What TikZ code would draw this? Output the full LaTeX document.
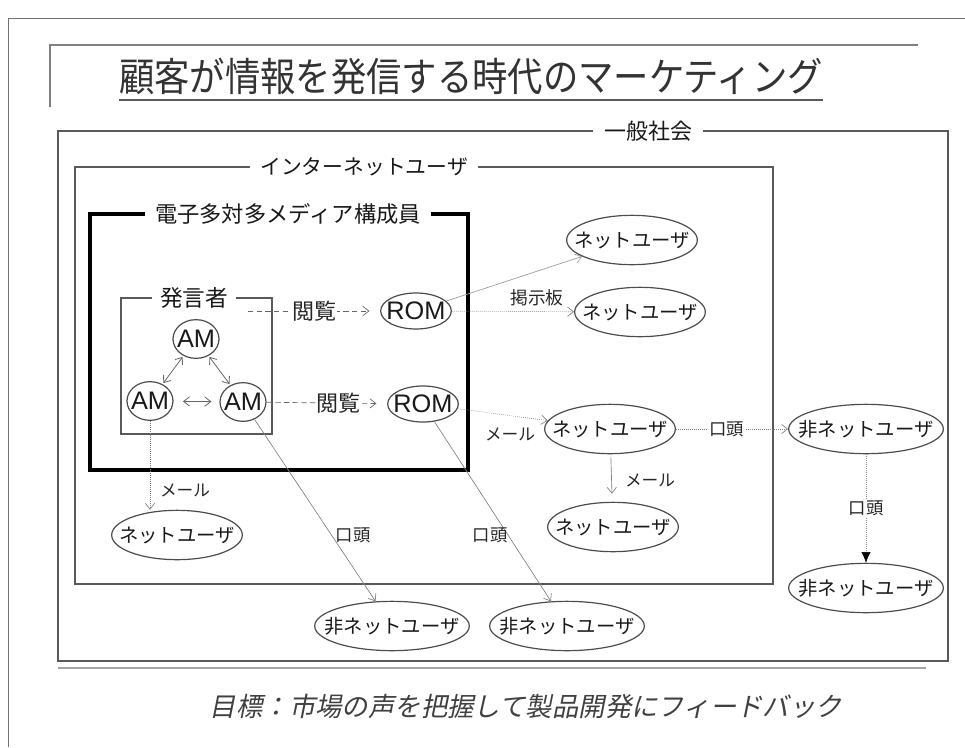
\documentclass[tikz,border=0pt]{standalone}
\usepackage{fontspec}
\setmainfont{Noto Sans CJK JP}
\newfontfamily\arialf{Liberation Sans}
\newfontfamily\slantf[FakeSlant=0.2]{Noto Sans CJK JP}
\usetikzlibrary{shapes.geometric,arrows.meta}
\newcommand{\tight}[1]{\makebox[0pt]{#1}}
\tikzset{
 ell/.style={ellipse, draw=black!70, line width=0.9pt, inner sep=0pt, text=black!90},
 nu/.style={ell, minimum width=98pt, minimum height=37pt, font=\fontsize{14.5}{14.5}\selectfont},
 nnu/.style={ell, minimum width=116pt, minimum height=37pt, font=\fontsize{14.5}{14.5}\selectfont},
 am/.style={ell, minimum width=34.5pt, minimum height=29pt, font=\arialf\fontsize{19}{19}\selectfont},
 rom/.style={ell, minimum width=53pt, minimum height=27pt, font=\arialf\fontsize{19}{19}\selectfont},
 frame/.style={draw=black!65, line width=0.8pt},
 boxlabel/.style={fill=white, inner xsep=8pt, inner ysep=1pt, text=black!90},
 conn/.style={draw=black!50, line width=0.5pt, -{Straight Barb[length=4.5pt,width=7pt]}},
 dotconn/.style={conn, densely dotted},
 dashconn/.style={conn, draw=black!60, dash pattern=on 4pt off 2.5pt},
 dbl/.style={draw=black!60, line width=0.6pt, {Straight Barb[length=4.5pt,width=7pt]}-{Straight Barb[length=4.5pt,width=7pt]}},
 lbl/.style={text=black!85, inner sep=1pt},
}
\begin{document}
\begin{tikzpicture}[x=0.75pt,y=-0.75pt]
\useasboundingbox (0,0) rectangle (965,747);
% page frame
\draw[black!55, line width=0.6pt] (8,747) -- (8,18) -- (965,18);
% title frame
\draw[black!50, line width=0.8pt] (50,107) -- (50,45) -- (918,45);
\node[anchor=base, inner sep=0pt, text=black!80, font=\fontsize{26.5}{26.5}\selectfont] (title) at (471,91) {\scalebox{1}[1.12]{顧客が情報を発信する時代のマーケティング}};
\draw[black!65, line width=1.3pt] ([yshift=-7pt]title.base west) -- ([yshift=-7pt]title.base east);

% boxes
\draw[frame] (58,131) rectangle (948,661);
\node[boxlabel, font=\fontsize{16.5}{16.5}\selectfont] (lab1) at (648,131) {一般社会};
\draw[frame] (75,167) rectangle (773,584);
\node[boxlabel, font=\fontsize{15.6}{15.6}\selectfont] (lab2) at (364,167) {インターネットユーザ};
\draw[black, line width=2.3pt] (90,214) rectangle (468,470);
\node[boxlabel, font=\fontsize{16.7}{16.7}\selectfont] (lab3) at (288,214) {電子多対多メディア構成員};
\draw[frame] (121,298) rectangle (272,434);
\node[boxlabel, inner xsep=6pt, font=\fontsize{17}{17}\selectfont] (lab4) at (194,298) {発言者};
\draw[black!35, line width=1.6pt] (58,668) -- (926,668);

% nodes
\node[am] (AMt) at (196,339) {\tight{AM}};
\node[am] (AMl) at (150,401) {\tight{AM}};
\node[am] (AMr) at (243,402) {\tight{AM}};
\node[rom] (ROM1) at (416,311) {\tight{ROM}};
\node[rom] (ROM2) at (423,404) {\tight{ROM}};
\node[nu] (NU1) at (632,240) {\tight{ネットユーザ}};
\node[nu] (NU2) at (640,312) {\tight{ネットユーザ}};
\node[nu] (NU3) at (610,429) {\tight{ネットユーザ}};
\node[nu] (NU4) at (613,527) {\tight{ネットユーザ}};
\node[nu] (NU5) at (177,535) {\tight{ネットユーザ}};
\node[nnu] (NNa) at (392,626) {\tight{非ネットユーザ}};
\node[nnu] (NNb) at (567,626) {\tight{非ネットユーザ}};
\node[nnu] (NNc) at (866,429) {\tight{非ネットユーザ}};
\node[nnu] (NNd) at (866,588) {\tight{非ネットユーザ}};

% AM mutual arrows
\draw[dbl, shorten <=1pt, shorten >=1pt] (AMt) -- (AMl);
\draw[dbl, shorten <=1pt, shorten >=1pt] (AMt) -- (AMr);
\draw[dbl, shorten <=7pt, shorten >=6pt] (AMl) -- (AMr);

% browse arrows
\coordinate (c1) at (248,311);
\draw[dashconn, shorten >=8pt] (c1) -- node[fill=white, inner sep=1pt, text=black!85, font=\fontsize{16.5}{16.5}\selectfont] (br1) {閲覧} (ROM1);
\draw[dashconn, shorten >=8pt] (AMr) -- node[pos=0.6, fill=white, inner sep=1pt, text=black!85, font=\fontsize{16.5}{16.5}\selectfont] (br2) {閲覧} (ROM2);

% ROM1 outputs
\draw[conn, black!40] (ROM1) -- (NU1);
\draw[dotconn] (ROM1) -- (NU2);
\node[lbl, font=\fontsize{13.3}{13.3}\selectfont] (bb) at (537,298) {掲示板};

% ROM2 outputs
\draw[dotconn] (ROM2) -- (NU3);
\node[lbl, font=\fontsize{12.5}{12.5}\selectfont] (m1) at (510,434) {メール};
\draw[conn, shorten <=2pt, shorten >=6pt] (NU3) -- (NU4);
\node[lbl, font=\fontsize{12.5}{12.5}\selectfont] (m2) at (650,480) {メール};
\draw[dotconn] (NU3) -- node[pos=0.45, fill=white, lbl, font=\fontsize{13}{13}\selectfont] (k1) {口頭} (NNc);
\draw[draw=black!45, line width=0.5pt, densely dotted, -{Latex[length=8pt,width=7pt,color=black,fill=black]}] (NNc) -- node[pos=0.5, fill=white, lbl, font=\fontsize{13}{13}\selectfont] (k2) {口頭} (NNd);
\draw[conn] (ROM2) -- (NNb);
\node[lbl, font=\fontsize{13}{13}\selectfont] (k3) at (490,535) {口頭};

% AM outputs
\draw[dotconn] (AMl.south) -- (AMl.south |- NU5.north);
\node[lbl, font=\fontsize{12.5}{12.5}\selectfont] (m3) at (185,490) {メール};
\draw[conn] (AMr) -- (NNa);
\node[lbl, font=\fontsize{13}{13}\selectfont] (k4) at (353,535) {口頭};

% footer
\node[text=black!75, font=\slantf\fontsize{19.8}{19.8}\selectfont] (foot) at (526,706) {目標：市場の声を把握して製品開発にフィードバック};
\end{tikzpicture}
\end{document}
